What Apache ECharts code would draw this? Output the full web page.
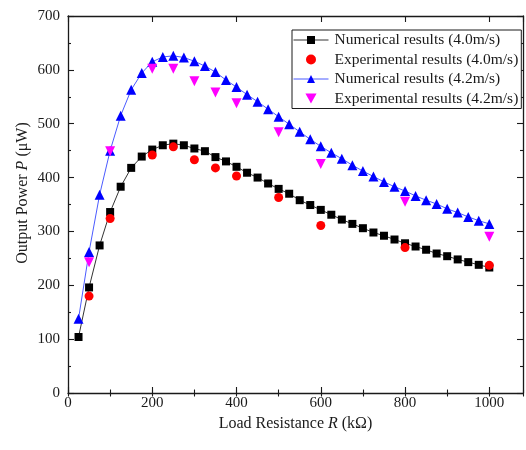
<!DOCTYPE html>
<html>
<head>
<meta charset="utf-8">
<script src="https://cdn.jsdelivr.net/npm/echarts@6/dist/echarts.min.js"></script>
<style>
  html, body { margin: 0; padding: 0; background: #fff; }
  #chart { width: 526px; height: 450px; }
</style>
</head>
<body>
<div id="chart"></div>
<script>
// Load resistance (kΩ) for the simulated curves
const numR = [25, 50, 75, 100, 125, 150, 175, 200, 225, 250, 275, 300, 325, 350, 375, 400,
  425, 450, 475, 500, 525, 550, 575, 600, 625, 650, 675, 700, 725, 750, 775, 800,
  825, 850, 875, 900, 925, 950, 975, 1000];
// Load resistance (kΩ) for the measured points
const expR = [50, 100, 200, 250, 300, 350, 400, 500, 600, 800, 1000];

// Output power (μW)
const num40 = [104, 196, 274, 336, 383, 418, 439, 452, 460, 463, 460, 454, 449, 438, 430, 420,
  409, 400, 389, 379, 370, 358, 349, 340, 331, 322, 314, 306, 298, 292, 285, 278,
  272, 266, 259, 254, 248, 243, 238, 233];
const exp40 = [180, 324, 442, 457, 433, 418, 403, 363, 311, 270, 237];
const num42 = [138, 262, 368, 450, 515, 563, 594, 615, 624, 626, 623, 616, 607, 596, 581, 568,
  554, 541, 527, 513, 499, 485, 471, 458, 446, 435, 423, 412, 402, 392, 383, 375,
  366, 358, 351, 342, 335, 327, 320, 314];
const exp42 = [243, 449, 602, 602, 579, 558, 538, 484, 425, 355, 290];

const seriesNames = [
  'Numerical results (4.0m/s)',
  'Experimental results (4.0m/s)',
  'Numerical results (4.2m/s)',
  'Experimental results (4.2m/s)'
];

const xTicks = { min: 0, max: 1080, major: 200, minor: 100 };
const yTicks = { min: 0, max: 700, major: 100 };

const FONT = '"Liberation Serif", "Times New Roman", serif';
const INK = '#1a1a1a';
const DOWN_TRIANGLE = 'path://M0,0 L10,0 L5,9 Z';

const zip = (xs, ys) => xs.map((x, i) => [x, ys[i]]);

const frameLine = { show: true, onZero: false, lineStyle: { color: INK, width: 1.3 } };

function xAxisDef(position, tickStep, tickLen, withLabels, withLine) {
  return {
    type: 'value', position,
    min: xTicks.min, max: xTicks.max, interval: tickStep,
    axisLine: withLine ? frameLine : { show: false },
    axisTick: { show: true, inside: true, length: tickLen, lineStyle: { color: INK, width: 1.1 } },
    axisLabel: withLabels ? {
      show: true, margin: 3, color: INK, fontFamily: FONT, fontSize: 15,
      showMaxLabel: false,
      formatter: v => (v % xTicks.major === 0 ? String(v) : '')
    } : { show: false },
    splitLine: { show: false }
  };
}

function yAxisDef(position, withLabels) {
  return {
    type: 'value', position,
    min: yTicks.min, max: yTicks.max, interval: yTicks.major,
    axisLine: frameLine,
    axisTick: { show: true, inside: true, length: 6, lineStyle: { color: INK, width: 1.1 } },
    minorTick: { show: true, splitNumber: 2, length: 3, lineStyle: { color: INK, width: 1.1 } },
    axisLabel: withLabels ? { show: true, margin: 8, color: INK, fontFamily: FONT, fontSize: 15 } : { show: false },
    splitLine: { show: false },
    minorSplitLine: { show: false }
  };
}

const xMain = xAxisDef('bottom', xTicks.major, 6, true, true);
xMain.name = '{a|Load Resistance }{i|R}{a| (kΩ)}';
xMain.nameLocation = 'middle';
xMain.nameGap = 20;
xMain.nameTextStyle = {
  rich: {
    a: { fontFamily: FONT, fontSize: 16, color: INK },
    i: { fontFamily: FONT, fontSize: 16, color: INK, fontStyle: 'italic' }
  }
};

const chart = echarts.init(document.getElementById('chart'), null, { renderer: 'canvas' });
chart.setOption({
  animation: false,
  backgroundColor: '#ffffff',
  grid: { left: 68, right: 3, top: 16, bottom: 57 },
  xAxis: [
    xMain,
    xAxisDef('bottom', xTicks.minor, 3.5, false, false),
    xAxisDef('top', xTicks.major, 6, false, true),
    xAxisDef('top', xTicks.minor, 3.5, false, false)
  ],
  yAxis: [yAxisDef('left', true), yAxisDef('right', false)],
  legend: {
    orient: 'vertical',
    left: 292, top: 30,
    padding: [2, 3, 2, 1],
    itemGap: 3.5,
    itemWidth: 35,
    itemHeight: 10,
    backgroundColor: '#fff',
    borderColor: INK,
    borderWidth: 1,
    lineStyle: { width: 1 },
    textStyle: { fontFamily: FONT, fontSize: 15.5, color: INK, padding: [0, 0, 0, 1] },
    data: [
      { name: seriesNames[0] },
      { name: seriesNames[1], icon: 'circle' },
      { name: seriesNames[2] },
      { name: seriesNames[3], icon: DOWN_TRIANGLE }
    ]
  },
  graphic: [{
    type: 'text',
    x: 23, y: 193,
    rotation: Math.PI / 2,
    style: {
      text: '{a|Output Power }{i|P}{a| (μW)}',
      align: 'center', verticalAlign: 'middle',
      rich: {
        a: { fontFamily: FONT, fontSize: 16, fill: INK },
        i: { fontFamily: FONT, fontSize: 16, fill: INK, fontStyle: 'italic' }
      }
    }
  }],
  series: [
    {
      name: seriesNames[0], type: 'line', data: zip(numR, num40),
      symbol: 'rect', symbolSize: 8,
      lineStyle: { color: '#333', width: 1 },
      itemStyle: { color: '#000' },
      z: 3
    },
    {
      name: seriesNames[1], type: 'scatter', data: zip(expR, exp40),
      symbol: 'circle', symbolSize: 9,
      itemStyle: { color: '#ff0000', opacity: 1 },
      z: 4
    },
    {
      name: seriesNames[2], type: 'line', data: zip(numR, num42),
      symbol: 'triangle', symbolSize: 10,
      lineStyle: { color: '#4b5bff', width: 1 },
      itemStyle: { color: '#0000ff' },
      z: 3
    },
    {
      name: seriesNames[3], type: 'scatter', data: zip(expR, exp42),
      symbol: DOWN_TRIANGLE, symbolSize: 10,
      itemStyle: { color: '#ff00ff', opacity: 1 },
      z: 4
    }
  ]
});
</script>
</body>
</html>
